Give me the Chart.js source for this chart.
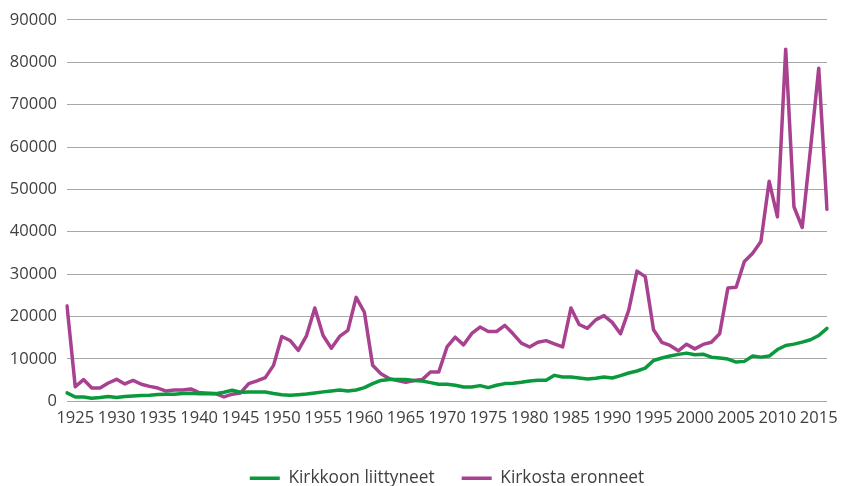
<!DOCTYPE html>
<html>
<head>
<meta charset="utf-8">
<script src="https://cdn.jsdelivr.net/npm/chart.js@4"></script>
<style>
  body { margin: 0; background: #fff; }
</style>
</head>
<body>
<canvas id="churchChart" width="842" height="486"></canvas>
<script>
// years shown on the axis
var years = [];
for (var y = 1924; y <= 2016; y++) years.push(y);

var liittyneet = [
    1950, 1000, 1000, 700, 870, 1100, 870, 1100, 1200, 1330,
    1400, 1570, 1650, 1650, 1800, 1900, 1750, 1800, 1750, 2100,
    2600, 2100, 2200, 2200, 2150, 1800, 1500, 1400, 1550, 1700,
    1950, 2200, 2420, 2650, 2420, 2650, 3200, 4150, 4900, 5100,
    5100, 5100, 4900, 4750, 4390, 4000, 4000, 3760, 3370, 3370,
    3680, 3210, 3760, 4150, 4230, 4470, 4780, 4930, 4930, 6100,
    5720, 5720, 5480, 5250, 5400, 5720, 5480, 6030, 6660, 7130,
    7800, 9600, 10200, 10650, 11050, 11350, 10970, 11100, 10400, 10200,
    9950, 9240, 9400, 10650, 10400, 10650, 12200, 13160, 13470, 13940,
    14500, 15500, 17200
];

var eronneet = [
    22500, 3400, 5100, 3100, 3100, 4300, 5170, 4070, 4900, 4000,
    3500, 3100, 2400, 2650, 2650, 2900, 2040, 1900, 1800, 1000,
    1650, 1950, 4150, 4800, 5560, 8460, 15270, 14330, 12000, 15500,
    22000, 15500, 12500, 15300, 16700, 24500, 21000, 8460, 6500, 5330,
    4900, 4470, 4900, 5100, 6900, 6900, 12800, 15100, 13300, 16000,
    17500, 16450, 16450, 17900, 15900, 13700, 12800, 13900, 14300, 13550,
    12800, 22000, 18100, 17200, 19200, 20200, 18600, 15900, 21500, 30700,
    29400, 16850, 13900, 13150, 11900, 13450, 12350, 13400, 13900, 15900,
    26700, 26900, 33000, 34900, 37700, 51900, 43500, 83100, 45900, 41000,
    59500, 78600, 45300
];

var textColor = '#404040';
var fontFamily = '"Open Sans", sans-serif';

const ctx = document.getElementById('churchChart').getContext('2d');
var churchChart = new Chart(ctx, {
    type: 'line',
    data: {
        labels: years,
        datasets: [
            {
                label: 'Kirkkoon liittyneet',
                data: liittyneet,
                borderColor: '#0b993d',
                backgroundColor: '#0b993d',
                borderWidth: 3.5,
                pointRadius: 0,
                tension: 0,
                fill: false,
                borderJoinStyle: 'round',
                borderCapStyle: 'round'
            },
            {
                label: 'Kirkosta eronneet',
                data: eronneet,
                borderColor: '#a8418f',
                backgroundColor: '#a8418f',
                borderWidth: 3.5,
                pointRadius: 0,
                tension: 0,
                fill: false,
                borderJoinStyle: 'round',
                borderCapStyle: 'round'
            }
        ]
    },
    options: {
        responsive: false,
        animation: false,
        layout: {
            padding: { top: 18, right: 15, bottom: -11, left: 0 }
        },
        plugins: {
            legend: {
                display: true,
                position: 'bottom',
                fullSize: false,
                labels: {
                    usePointStyle: true,
                    pointStyle: 'line',
                    pointStyleWidth: 30,
                    padding: 27,
                    color: textColor,
                    font: { family: fontFamily, size: 17.3 }
                }
            },
            tooltip: { enabled: false }
        },
        scales: {
            x: {
                type: 'category',
                offset: false,
                grid: { display: false, drawTicks: false },
                border: { display: false },
                ticks: {
                    autoSkip: false,
                    maxRotation: 0,
                    minRotation: 0,
                    padding: 7,
                    color: textColor,
                    font: { family: fontFamily, size: 16.5 },
                    callback: function (value, index) {
                        var yr = years[index];
                        return yr % 5 === 0 ? String(yr) : '';
                    }
                },
                afterFit: function (scale) { scale.height = 41.5; }
            },
            y: {
                min: 0,
                max: 90000,
                grid: { color: '#a8a8a8', lineWidth: 1, drawTicks: false },
                border: { display: false },
                ticks: {
                    stepSize: 10000,
                    padding: 10,
                    color: textColor,
                    font: { family: fontFamily, size: 16.5 },
                    callback: function (v) { return v; }
                },
                afterFit: function (scale) { scale.width = 67; }
            }
        }
    }
});
</script>
</body>
</html>
